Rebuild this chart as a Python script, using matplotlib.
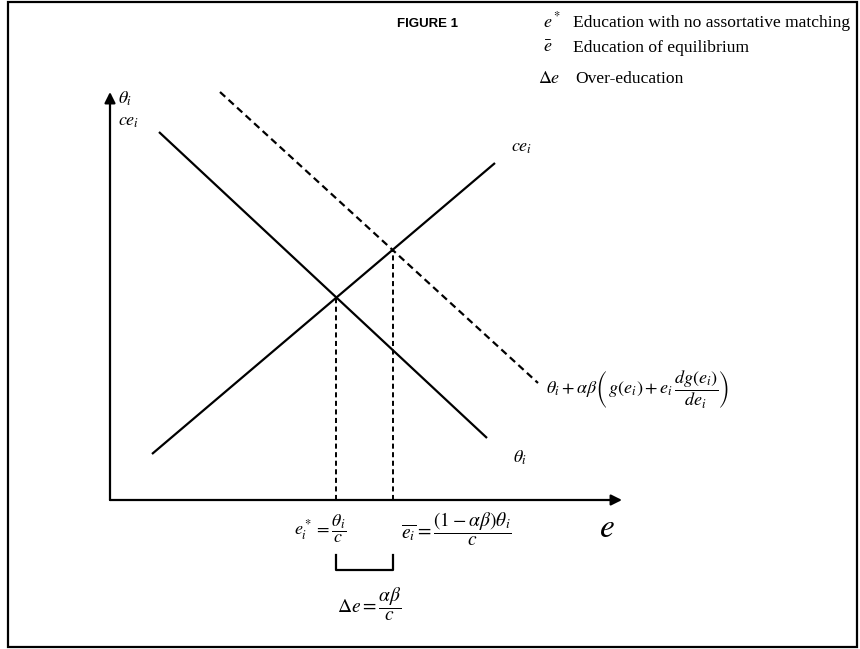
import matplotlib
matplotlib.use("Agg")
import matplotlib.pyplot as plt
from matplotlib.patches import Rectangle

plt.rcParams['mathtext.fontset'] = 'stix'
plt.rcParams['font.family'] = ['Liberation Serif', 'DejaVu Serif']

# Schematic data (origin at the crossing of the axes, units ~ pixels)
theta_e = [49, 377]          # theta_i line (downward)
theta_v = [368, 62]
ce_e = [42, 385]             # ce_i line (upward)
ce_v = [46, 337]
shift_e = [110, 428]         # theta_i + alpha*beta(...) dashed line
shift_v = [408, 117]
axis_e_max = 512
axis_v_max = 408

def intersect(x1, y1, x2, y2):
    m1 = (y1[1] - y1[0]) / (x1[1] - x1[0])
    m2 = (y2[1] - y2[0]) / (x2[1] - x2[0])
    b1 = y1[0] - m1 * x1[0]
    b2 = y2[0] - m2 * x2[0]
    x = (b2 - b1) / (m1 - m2)
    return x, m1 * x + b1

e_star, v_star = intersect(theta_e, theta_v, ce_e, ce_v)
e_bar, v_bar = intersect(shift_e, shift_v, ce_e, ce_v)

fig = plt.figure(figsize=(8.6, 6.49), dpi=100)
ax = fig.add_axes([0, 0, 1, 1])
ax.set_xlim(-110, 750)
ax.set_ylim(-149, 500)
ax.axis('off')

# frame
ax.add_patch(Rectangle((-102, -147), 849, 645, fill=False, lw=1.6, ec='black'))

# axes arrows
ax.annotate('', xy=(0, axis_v_max), xytext=(0, 0),
            arrowprops=dict(arrowstyle='-|>', mutation_scale=16, lw=1.6, color='black',
                            shrinkA=0, shrinkB=0))
ax.annotate('', xy=(axis_e_max, 0), xytext=(0, 0),
            arrowprops=dict(arrowstyle='-|>', mutation_scale=16, lw=1.6, color='black',
                            shrinkA=0, shrinkB=0))

# lines
ax.plot(theta_e, theta_v, color='black', lw=1.6, solid_capstyle='butt')
ax.plot(ce_e, ce_v, color='black', lw=1.6, solid_capstyle='butt')
ax.plot(shift_e, shift_v, color='black', lw=1.6, dashes=(3.2, 2.0))

# vertical dashed guides
ax.plot([e_star, e_star], [0, v_star], color='black', lw=1.4, dashes=(2.6, 1.8))
ax.plot([e_bar, e_bar], [0, v_bar], color='black', lw=1.4, dashes=(2.6, 1.8))

# bracket
ax.plot([e_star, e_star, e_bar, e_bar], [-55, -70, -70, -55], color='black', lw=1.6)

# labels
ax.text(8, 401, r'$\theta_i$', fontsize=13, ha='left', va='center')
ax.text(8, 379, r'$ce_i$', fontsize=13, ha='left', va='center')
ax.text(ce_e[1] + 27, 353, r'$ce_i$', fontsize=13, ha='center', va='center')
ax.text(theta_e[1] + 33, 42, r'$\theta_i$', fontsize=13, ha='center', va='center')
ax.text(shift_e[1] + 8, 110,
        r'$\theta_i+\alpha\beta\left(\,g(e_i)+e_i\,\dfrac{dg(e_i)}{de_i}\right)$',
        fontsize=13, ha='left', va='center')
ax.text(e_star - 16, -29, r'$e_i^*=\dfrac{\theta_i}{c}$', fontsize=13, ha='center', va='center')
ax.text(e_bar + 64, -29, r'$\overline{e_i}=\dfrac{(1-\alpha\beta)\theta_i}{c}$',
        fontsize=14, ha='center', va='center')
ax.text(497, -29, r'$e$', fontsize=24, ha='center', va='center')
ax.text(e_star + 33, -104, r'$\Delta e=\dfrac{\alpha\beta}{c}$', fontsize=14, ha='center', va='center')

# legend block
ax.text(287, 473, 'FIGURE 1', fontsize=9.5, fontweight='bold',
        family=['Liberation Sans', 'DejaVu Sans'], ha='left', va='baseline')
ax.text(433, 473, r'$e^*$', fontsize=13, ha='left', va='baseline')
ax.text(463, 473, 'Education with no assortative matching', fontsize=12.6, ha='left', va='baseline')
ax.text(433, 448, r'$\bar{e}$', fontsize=13, ha='left', va='baseline')
ax.text(463, 448, 'Education of equilibrium', fontsize=12.6, ha='left', va='baseline')
ax.text(428, 417, r'$\Delta e$', fontsize=13, ha='left', va='baseline')
ax.text(465, 417, 'Over-education', fontsize=12.6, ha='left', va='baseline')

fig.savefig('out.png', dpi=100)
